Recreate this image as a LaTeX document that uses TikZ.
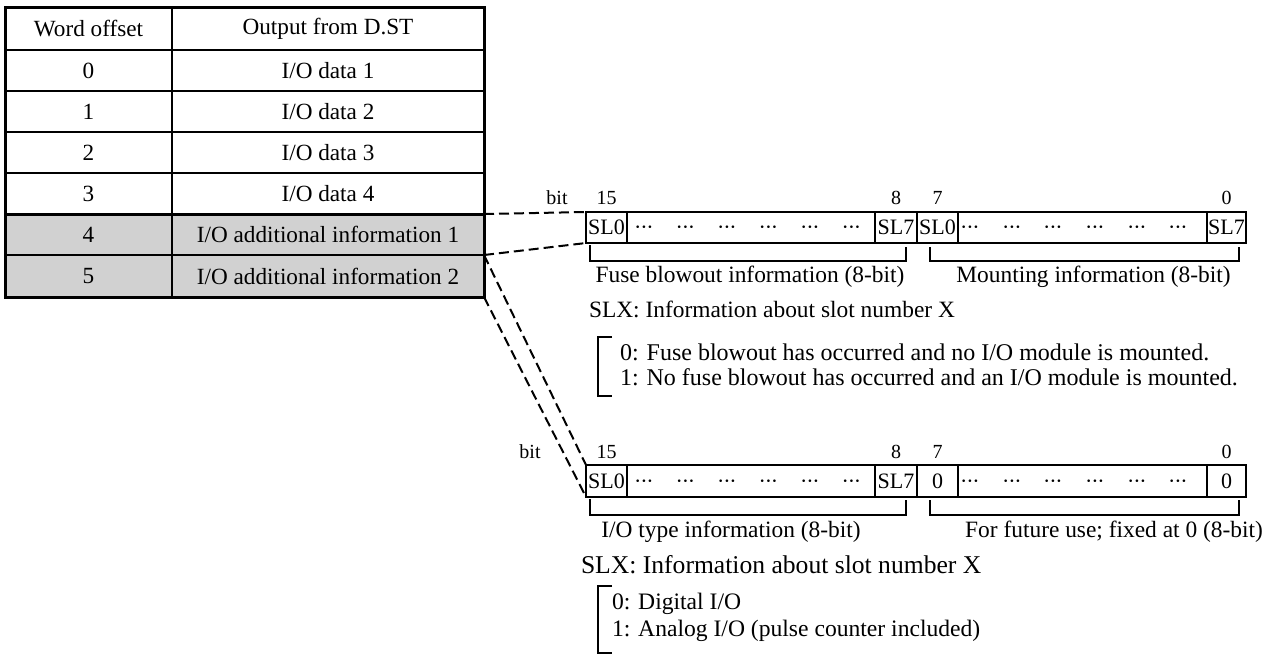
\documentclass[tikz,border=0pt]{standalone}
\usepackage{fontspec}
\setmainfont{Liberation Serif}
\newcommand{\mydots}{\textperiodcentered\kern-0.6pt\textperiodcentered\kern-0.6pt\textperiodcentered}
\begin{document}
\begin{tikzpicture}[x=0.5pt,y=-0.5pt,
  every node/.style={inner sep=0pt, outer sep=0pt},
  tabtxt/.style={font=\fontsize{11.6}{13}\selectfont},
  celltxt/.style={font=\fontsize{11}{13}\selectfont},
  bittxt/.style={font=\fontsize{10}{12}\selectfont},
  dottxt/.style={font=\fontsize{11}{13}\selectfont, anchor=base},
  labtxt/.style={font=\fontsize{11.7}{13}\selectfont},
  slxtxt/.style={font=\fontsize{11.7}{13}\selectfont, anchor=west},
  slxbig/.style={font=\fontsize{12.8}{15}\selectfont, anchor=west},
  listtxt/.style={font=\fontsize{12}{14}\selectfont, anchor=west},
  listbig/.style={font=\fontsize{11.8}{14}\selectfont, anchor=west},
  thin line/.style={line width=1pt},
  thick line/.style={line width=1.5pt},
  connector/.style={line width=1pt, dash pattern=on 5pt off 2.5pt},
  bracket/.style={line width=1pt}
]
\useasboundingbox (0,0) rectangle (1270,655);
% ---------- table ----------
\fill[black!18] (5,214) rectangle (484,297);
\foreach \yy in {50,91,132,173,255}
  \draw[thin line] (5,\yy) -- (484,\yy);
\draw[thick line] (5,214) -- (484,214);
\draw[thin line] (172,7) -- (172,297);
\draw[thick line] (5,7) rectangle (484,297);
\node[tabtxt] (h1) at (88.5,28.5) {Word offset};
\node[tabtxt] (h2) at (328,28.5) {Output from D.ST};
\node[tabtxt] (w0) at (88.5,70.5) {0};
\node[tabtxt] (o0) at (328,70.5) {I/O data 1};
\node[tabtxt] (w1) at (88.5,111.5) {1};
\node[tabtxt] (o1) at (328,111.5) {I/O data 2};
\node[tabtxt] (w2) at (88.5,152.5) {2};
\node[tabtxt] (o2) at (328,152.5) {I/O data 3};
\node[tabtxt] (w3) at (88.5,193.5) {3};
\node[tabtxt] (o3) at (328,193.5) {I/O data 4};
\node[tabtxt] (w4) at (88.5,234.5) {4};
\node[tabtxt] (o4) at (328,234.5) {I/O additional information 1};
\node[tabtxt] (w5) at (88.5,276) {5};
\node[tabtxt] (o5) at (328,276) {I/O additional information 2};
\coordinate (t4) at (484,214);
\coordinate (t5) at (484,255);
\coordinate (t6) at (484,297);
% ---------- register 1 ----------
\coordinate (r1nw) at (586,212);
\coordinate (r1sw) at (586,243);
\draw[thin line] (586,212) rectangle (1246,243);
\foreach \xx in {627,875,917,958,1207}
  \draw[thin line] (\xx,212) -- (\xx,243);
\node[bittxt] (b1bit) at (557,198) {bit};
\node[bittxt] (b1a) at (606.5,198) {15};
\node[bittxt] (b1b) at (896,198) {8};
\node[bittxt] (b1c) at (937.5,198) {7};
\node[bittxt] (b1d) at (1226.5,198) {0};
\node[celltxt] (r1a) at (606.5,227.5) {SL0};
\node[celltxt] (r1b) at (896,227.5) {SL7};
\node[celltxt] (r1c) at (937.5,227.5) {SL0};
\node[celltxt] (r1d) at (1226.5,227.5) {SL7};
\foreach \xx [count=\i] in {644,685.5,727,768.5,810,851.5}
  \node[dottxt] (r1p\i) at (\xx,234.5) {\mydots};
\foreach \xx [count=\i] in {970,1012,1053,1095,1137,1178}
  \node[dottxt] (r1q\i) at (\xx,234.5) {\mydots};
\draw[bracket] (590,245) -- (590,261) -- (906,261) -- (906,247);
\draw[bracket] (930,247) -- (930,261) -- (1239,261) -- (1239,247);
\node[labtxt] (lf) at (750,277) {Fuse blowout information (8-bit)};
\node[labtxt] (lm) at (1093.5,277) {Mounting information (8-bit)};
\node[slxtxt] (slx1) at (589,309) {SLX: Information about slot number X};
\draw[bracket] (612,337) -- (598,337) -- (598,396) -- (612,396);
\node[listtxt] (i10) at (620,352) {0: Fuse blowout has occurred and no I/O module is mounted.};
\node[listtxt] (i11) at (620,377) {1: No fuse blowout has occurred and an I/O module is mounted.};
% ---------- register 2 ----------
\coordinate (r2nw) at (586,465);
\coordinate (r2sw) at (586,497);
\draw[thin line] (586,465) rectangle (1246,497);
\foreach \xx in {627,875,917,958,1207}
  \draw[thin line] (\xx,465) -- (\xx,497);
\node[bittxt] (b2bit) at (530,451.5) {bit};
\node[bittxt] (b2a) at (606.5,451.5) {15};
\node[bittxt] (b2b) at (896,451.5) {8};
\node[bittxt] (b2c) at (937.5,451.5) {7};
\node[bittxt] (b2d) at (1226.5,451.5) {0};
\node[celltxt] (r2a) at (606.5,481) {SL0};
\node[celltxt] (r2b) at (896,481) {SL7};
\node[celltxt] (r2c) at (937.5,481) {0};
\node[celltxt] (r2d) at (1226.5,481) {0};
\foreach \xx [count=\i] in {644,685.5,727,768.5,810,851.5}
  \node[dottxt] (r2p\i) at (\xx,488) {\mydots};
\foreach \xx [count=\i] in {970,1012,1053,1095,1137,1178}
  \node[dottxt] (r2q\i) at (\xx,488) {\mydots};
\draw[bracket] (590,499) -- (590,515) -- (906,515) -- (906,500);
\draw[bracket] (930,500) -- (930,515) -- (1239,515) -- (1239,500);
\node[labtxt] (li) at (731,532) {I/O type information (8-bit)};
\node[labtxt] (lu) at (1114,532) {For future use; fixed at 0 (8-bit)};
\node[slxbig] (slx2) at (581,565) {SLX: Information about slot number X};
\draw[bracket] (612,586) -- (598,586) -- (598,653) -- (612,653);
\node[listbig] (i20) at (612,604) {0: Digital I/O};
\node[listbig] (i21) at (612,631) {1: Analog I/O (pulse counter included)};
% ---------- connectors ----------
\draw[connector] (t4) -- (r1nw);
\draw[connector] (t5) -- (r1sw);
\draw[connector] (t5) -- (r2nw);
\draw[connector] (t6) -- (r2sw);
\end{tikzpicture}
\end{document}
